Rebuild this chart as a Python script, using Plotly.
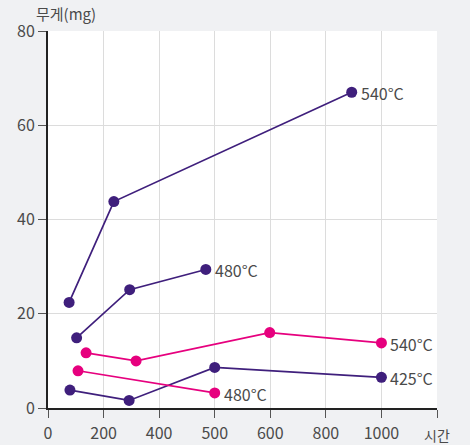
import plotly.graph_objects as go

# axis slot positions (evenly spaced) and the printed tick labels
tick_positions = [0, 200, 400, 600, 800, 1000, 1200]
tick_labels = ["0", "200", "400", "500", "600", "800", "1000"]

# series (x in axis-position units, y in mg)
s540_purple_x = [76, 237, 1093]
s540_purple_y = [22.4, 43.8, 67.0]
s480_purple_x = [103, 294, 568]
s480_purple_y = [14.9, 25.1, 29.4]
s425_purple_x = [79, 292, 600, 1200]
s425_purple_y = [3.8, 1.6, 8.6, 6.5]
s540_pink_x = [137, 317, 798, 1200]
s540_pink_y = [11.7, 10.0, 16.0, 13.8]
s480_pink_x = [108, 600]
s480_pink_y = [7.9, 3.2]

series_names = ["540°C", "480°C", "425°C", "540°C", "480°C"]

PURPLE = "#3f1f7c"
PINK = "#e6007e"
FONT = "Noto Sans CJK KR"
TXT = "#4a4a4a"

series = [
    (s540_purple_x, s540_purple_y, PURPLE, series_names[0]),
    (s480_purple_x, s480_purple_y, PURPLE, series_names[1]),
    (s425_purple_x, s425_purple_y, PURPLE, series_names[2]),
    (s540_pink_x, s540_pink_y, PINK, series_names[3]),
    (s480_pink_x, s480_pink_y, PINK, series_names[4]),
]

fig = go.Figure()
for xs, ys, col, name in series:
    fig.add_trace(go.Scatter(
        x=xs, y=ys, mode="lines+markers", name=name,
        line=dict(color=col, width=1.7),
        marker=dict(color=col, size=11),
        showlegend=False, cliponaxis=False,
    ))
    fig.add_annotation(x=xs[-1], y=ys[-1], text=name, showarrow=False,
                       xanchor="left", yanchor="middle", xshift=7, yshift=-1,
                       font=dict(family=FONT, size=16, color=TXT))

fig.add_annotation(xref="paper", yref="paper", x=-0.035, y=1.0, yshift=5,
                   text="무게(mg)", showarrow=False, xanchor="left", yanchor="bottom",
                   font=dict(family=FONT, size=15, color=TXT))
fig.add_annotation(xref="paper", yref="paper", x=1.0, y=0, yshift=-27,
                   text="시간", showarrow=False, xanchor="center", yanchor="middle",
                   font=dict(family=FONT, size=14, color=TXT))

fig.update_layout(
    width=470, height=445,
    margin=dict(l=48, r=33, t=31, b=37, autoexpand=False),
    paper_bgcolor="#f0f1f3", plot_bgcolor="#ffffff",
    font=dict(family=FONT, size=16, color=TXT),
    xaxis=dict(range=[0, 1400], tickvals=tick_positions + [1400],
               ticktext=tick_labels + [""], automargin=False,
               showgrid=True, gridcolor="#dcdcdc", gridwidth=1,
               showline=True, linecolor="#222222", linewidth=2,
               ticks="outside", ticklen=8, tickcolor="#555555",
               ticklabelstandoff=2,
               zeroline=False, tickfont=dict(size=16, color=TXT)),
    yaxis=dict(range=[0, 80], tickvals=[0, 20, 40, 60, 80], automargin=False,
               showgrid=True, gridcolor="#dcdcdc", gridwidth=1,
               showline=True, linecolor="#222222", linewidth=2,
               ticks="outside", ticklen=8, tickcolor="#555555",
               zeroline=False, tickfont=dict(size=16, color=TXT)),
)

fig.write_html("out.html", config={"displayModeBar": False},
               post_script="document.body.style.margin='0';document.body.style.background='#f0f1f3';")
